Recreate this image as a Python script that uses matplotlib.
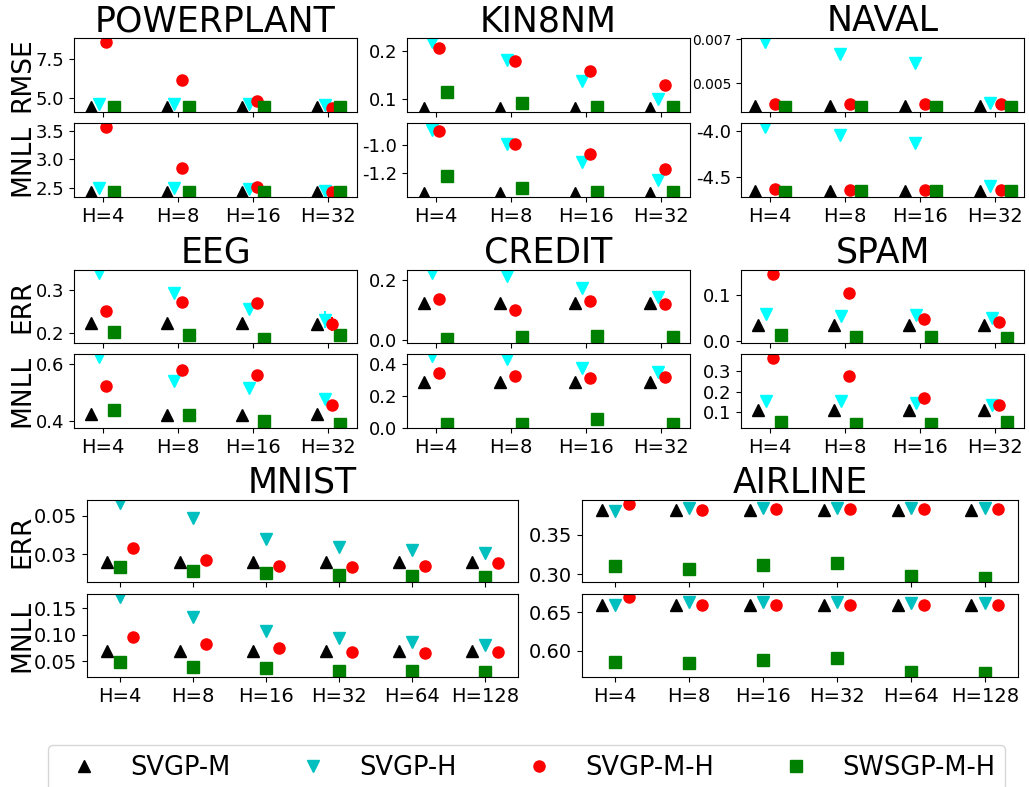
import matplotlib
matplotlib.use("Agg")
import matplotlib.pyplot as plt

plt.rcParams["axes.unicode_minus"] = False

W, H = 1029, 787

METHODS = ["SVGP-M", "SVGP-H", "SVGP-M-H", "SWSGP-M-H"]
MARKERS = ["^", "v", "o", "s"]
TOP_COLORS = ["k", "cyan", "r", "g"]
BOT_COLORS = ["k", "c", "r", "g"]

H4 = ["H=4", "H=8", "H=16", "H=32"]
H6 = ["H=4", "H=8", "H=16", "H=32", "H=64", "H=128"]

# each panel: rows are SVGP-M, SVGP-H, SVGP-M-H, SWSGP-M-H
powerplant_rmse = [[4.37, 4.37, 4.37, 4.37],
                   [4.60, 4.60, 4.58, 4.55],
                   [8.61, 6.14, 4.80, 4.35],
                   [4.37, 4.37, 4.37, 4.37]]
powerplant_mnll = [[2.42, 2.42, 2.42, 2.42],
                   [2.49, 2.49, 2.47, 2.45],
                   [3.56, 2.85, 2.52, 2.42],
                   [2.43, 2.43, 2.43, 2.43]]

kin8nm_rmse = [[0.081, 0.081, 0.081, 0.081],
               [0.219, 0.181, 0.138, 0.099],
               [0.205, 0.178, 0.159, 0.129],
               [0.115, 0.092, 0.084, 0.084]]
kin8nm_mnll = [[-1.337, -1.337, -1.337, -1.337],
               [-0.894, -0.993, -1.118, -1.247],
               [-0.901, -0.993, -1.064, -1.172],
               [-1.219, -1.306, -1.335, -1.335]]

naval_rmse = [[0.00397, 0.00397, 0.00397, 0.00397],
              [0.00689, 0.00633, 0.00591, 0.00412],
              [0.00406, 0.00406, 0.00406, 0.00405],
              [0.00391, 0.00391, 0.00392, 0.00391]]
naval_mnll = [[-4.656, -4.656, -4.656, -4.656],
              [-3.957, -4.047, -4.130, -4.600],
              [-4.630, -4.640, -4.640, -4.640],
              [-4.663, -4.660, -4.655, -4.660]]

eeg_err = [[0.223, 0.223, 0.223, 0.222],
           [0.338, 0.292, 0.255, 0.231],
           [0.250, 0.2715, 0.269, 0.221],
           [0.2015, 0.1945, 0.187, 0.1945]]
eeg_err_std = [[0, 0, 0, 0],
               [0, 0, 0, 0.02],
               [0, 0, 0, 0.016],
               [0, 0, 0, 0]]
eeg_mnll = [[0.426, 0.4225, 0.4225, 0.426],
            [0.624, 0.542, 0.515, 0.477],
            [0.524, 0.5775, 0.560, 0.456],
            [0.438, 0.4225, 0.400, 0.388]]

credit_err = [[0.122, 0.122, 0.122, 0.122],
              [0.224, 0.213, 0.174, 0.144],
              [0.1356, 0.098, 0.130, 0.120],
              [0.0033, 0.0089, 0.0133, 0.0078]]
credit_mnll = [[0.29, 0.29, 0.29, 0.29],
               [0.449, 0.432, 0.375, 0.350],
               [0.347, 0.328, 0.313, 0.320],
               [0.025, 0.021, 0.057, 0.025]]

spam_err = [[0.0357, 0.0357, 0.0357, 0.0357],
            [0.059, 0.055, 0.057, 0.050],
            [0.144, 0.103, 0.0486, 0.0414],
            [0.0129, 0.0093, 0.0093, 0.007]]
spam_mnll = [[0.113, 0.113, 0.113, 0.113],
             [0.156, 0.156, 0.146, 0.135],
             [0.366, 0.280, 0.171, 0.135],
             [0.052, 0.044, 0.040, 0.052]]

mnist_err = [[0.0257, 0.0257, 0.0257, 0.0257, 0.0257, 0.0257],
             [0.0564, 0.0486, 0.0379, 0.0336, 0.0322, 0.0305],
             [0.0331, 0.0271, 0.0240, 0.0231, 0.0240, 0.0253],
             [0.0233, 0.0210, 0.0202, 0.0193, 0.0188, 0.0181]]
mnist_mnll = [[0.069, 0.069, 0.069, 0.069, 0.069, 0.069],
              [0.171, 0.134, 0.1076, 0.093, 0.0867, 0.0804],
              [0.096, 0.0823, 0.074, 0.0665, 0.0646, 0.0665],
              [0.0487, 0.0392, 0.0373, 0.0316, 0.031, 0.029]]

airline_err = [[0.3818, 0.3818, 0.3818, 0.3818, 0.3818, 0.3818],
               [0.381, 0.384, 0.384, 0.384, 0.384, 0.384],
               [0.3894, 0.3818, 0.383, 0.383, 0.383, 0.383],
               [0.3097, 0.3068, 0.3119, 0.314, 0.2979, 0.2953]]
airline_mnll = [[0.6596, 0.6596, 0.6596, 0.6596, 0.6596, 0.6596],
                [0.6596, 0.6626, 0.6626, 0.6626, 0.6617, 0.6617],
                [0.669, 0.6587, 0.6596, 0.6596, 0.6596, 0.6596],
                [0.5857, 0.5835, 0.5878, 0.5909, 0.5726, 0.5717]]


def px_axes(fig, l, t, r, b):
    return fig.add_axes([l / W, 1 - b / H, (r - l) / W, (b - t) / H])


def draw(ax, vals, labels, colors, offs, ylim, yticks, std=None, tick_fs=13):
    handles = []
    for i in range(4):
        xs = [k + 1 + offs[i] for k in range(len(labels))]
        if std is not None and any(std[i]):
            h = ax.errorbar(xs, vals[i], yerr=std[i], fmt=MARKERS[i], color=colors[i],
                            ms=8, elinewidth=1.5, capsize=0)
        else:
            h, = ax.plot(xs, vals[i], ls="none", marker=MARKERS[i], color=colors[i], ms=8)
        handles.append(h)
    n = len(labels)
    ax.set_xlim(0.62, n + 0.38) if n == 4 else ax.set_xlim(0.55, n + 0.45)
    ax.set_xticks(range(1, n + 1))
    ax.set_xticklabels(labels, fontsize=14)
    ax.set_ylim(*ylim)
    ax.set_yticks(yticks)
    ax.tick_params(axis="y", labelsize=tick_fs)
    return handles


def ylab(ax, text, x_px, l, r):
    ax.set_ylabel(text, fontsize=19)
    ax.yaxis.set_label_coords((x_px - l) / (r - l), 0.5)


fig = plt.figure(figsize=(W / 100, H / 100), dpi=100)

top_off = [-0.15, -0.05, 0.05, 0.15]
naval_off = [-0.2, -0.067, 0.07, 0.21]
bot_off = [-0.18, 0.0, 0.18, 0.0]

cols = [(74, 357), (407, 690), (741, 1024)]
row1 = [(38, 112), (123, 197)]
row2 = [(270, 343), (354, 428)]

top_panels = [
    ("POWERPLANT", cols[0], row1, powerplant_rmse, powerplant_mnll, top_off,
     (4.07, 8.89), [5.0, 7.5], (2.337, 3.635), [2.5, 3.0, 3.5], None, 13),
    ("KIN8NM", cols[1], row1, kin8nm_rmse, kin8nm_mnll, top_off,
     (0.0731, 0.2263), [0.1, 0.2], (-1.367, -0.845), [-1.2, -1.0], None, 13),
    ("NAVAL", cols[2], row1, naval_rmse, naval_mnll, naval_off,
     (0.003695, 0.00706), [0.005, 0.007], (-4.721, -3.916), [-4.5, -4.0], None, 10),
    ("EEG", cols[0], row2, eeg_err, eeg_mnll, top_off,
     (0.177, 0.346), [0.2, 0.3], (0.375, 0.6355), [0.4, 0.6], eeg_err_std, 13),
    ("CREDIT", cols[1], row2, credit_err, credit_mnll, top_off,
     (-0.011, 0.233), [0.0, 0.2], (-0.002, 0.4635), [0.0, 0.2, 0.4], None, 13),
    ("SPAM", cols[2], row2, spam_err, spam_mnll, top_off,
     (-0.0036, 0.1536), [0.0, 0.1], (0.0223, 0.386), [0.1, 0.2, 0.3], None, 13),
]

for name, (l, r), rows, v1, v2, offs, yl1, yt1, yl2, yt2, std, fs in top_panels:
    a1 = px_axes(fig, l, rows[0][0], r, rows[0][1])
    a2 = px_axes(fig, l, rows[1][0], r, rows[1][1])
    draw(a1, v1, H4, TOP_COLORS, offs, yl1, yt1, std=std, tick_fs=fs)
    draw(a2, v2, H4, TOP_COLORS, offs, yl2, yt2)
    a1.tick_params(axis="x", labelbottom=False)
    a1.set_title(name, fontsize=25, pad=4)
    if l == 74:
        ylab(a1, "RMSE" if name == "POWERPLANT" else "ERR", 35, l, r)
        ylab(a2, "MNLL", 35, l, r)

row3 = [(500, 582), (594, 677)]
bot_panels = [
    ("MNIST", (87, 518), mnist_err, mnist_mnll,
     (0.0155, 0.0581), [0.03, 0.05], (0.0203, 0.1766), [0.05, 0.10, 0.15]),
    ("AIRLINE", (582, 1018), airline_err, airline_mnll,
     (0.2898, 0.3945), [0.30, 0.35], (0.566, 0.6735), [0.60, 0.65]),
]

handles = None
for name, (l, r), v1, v2, yl1, yt1, yl2, yt2 in bot_panels:
    a1 = px_axes(fig, l, row3[0][0], r, row3[0][1])
    a2 = px_axes(fig, l, row3[1][0], r, row3[1][1])
    hs = draw(a1, v1, H6, BOT_COLORS, bot_off, yl1, yt1, tick_fs=14)
    draw(a2, v2, H6, BOT_COLORS, bot_off, yl2, yt2, tick_fs=14)
    a1.tick_params(axis="x", labelbottom=False)
    a1.set_title(name, fontsize=25, pad=4)
    if name == "MNIST":
        handles = hs
        ylab(a1, "ERR", 35, l, r)
        ylab(a2, "MNLL", 35, l, r)

fig.legend(handles, METHODS, loc="upper center", bbox_to_anchor=(0.512, 1 - 745 / H),
           ncol=4, fontsize=18.5, borderaxespad=0, columnspacing=2.2)

fig.savefig("out.png", dpi=100)
